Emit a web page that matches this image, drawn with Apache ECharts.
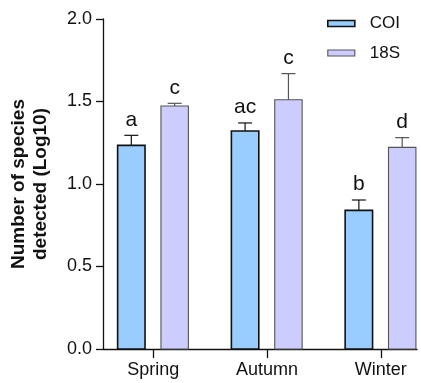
<!DOCTYPE html>
<html>
<head>
<meta charset="utf-8">
<script src="https://cdn.jsdelivr.net/npm/echarts@6/dist/echarts.min.js"></script>
<style>html,body{margin:0;padding:0;background:#fff}#c{width:421px;height:383px}</style>
</head>
<body>
<div id="c"></div>
<script>
const categories = ['Spring', 'Autumn', 'Winter'];
const coiMean = [1.234, 1.321, 0.840];
const coiErr = [0.061, 0.049, 0.063];
const coiLetters = ['a', 'ac', 'b'];
const s18Mean = [1.473, 1.511, 1.222];
const s18Err = [0.016, 0.158, 0.059];
const s18Letters = ['c', 'c', 'd'];
const yTicks = [0, 0.5, 1.0, 1.5, 2.0];

const FONT = '"Liberation Sans", Arial, sans-serif';

function makeRender(offsetFrac, fill, stroke, bw, errColor, letters) {
  return function (params, api) {
    const x = api.value(0), y = api.value(1), e = api.value(2);
    const unit = api.size([1, 0])[0];
    const off = unit * offsetFrac;
    const w = unit * 0.241;
    const base = api.coord([x, 0]);
    const top = api.coord([x, y]);
    const et = api.coord([x, y + e]);
    const cx = base[0] + off;
    const cap = 14;
    return {
      type: 'group',
      children: [
        { type: 'line', shape: { x1: cx, y1: top[1], x2: cx, y2: et[1] }, style: { stroke: errColor, lineWidth: 1.2 } },
        { type: 'line', shape: { x1: cx - cap / 2, y1: et[1], x2: cx + cap / 2, y2: et[1] }, style: { stroke: errColor, lineWidth: 1.2 } },
        { type: 'rect', shape: { x: cx - w / 2, y: top[1], width: w, height: base[1] - top[1] }, style: { fill: fill, stroke: stroke, lineWidth: bw } },
        { type: 'text', x: cx, y: et[1] - 5, style: { text: letters[params.dataIndex], font: '21px ' + FONT, fill: '#111', align: 'center', verticalAlign: 'bottom' } }
      ]
    };
  };
}

const chart = echarts.init(document.getElementById('c'), null, { renderer: 'canvas' });
chart.setOption({
  animation: false,
  backgroundColor: '#fff',
  grid: { left: 102, top: 19, width: 315, bottom: 34, containLabel: false },
  legend: {
    orient: 'vertical',
    left: 327,
    top: 15,
    padding: 0,
    itemWidth: 27,
    itemHeight: 6,
    itemGap: 12.5,
    textStyle: { fontFamily: FONT, fontSize: 17, color: '#111', padding: [0, 0, 0, 10] },
    data: [
      { name: 'COI', icon: 'rect', itemStyle: { color: '#99CCFF', borderColor: '#111', borderWidth: 1.6 } },
      { name: '18S', icon: 'rect', itemStyle: { color: '#CCCCFF', borderColor: '#555', borderWidth: 1.1 } }
    ]
  },
  xAxis: {
    type: 'value',
    min: -0.442,
    max: 2.318,
    splitLine: { show: false },
    axisLine: { show: true, onZero: false, lineStyle: { color: '#111', width: 1.3 } },
    axisTick: { show: true, length: 9, lineStyle: { color: '#111', width: 1.3 }, customValues: [0, 1, 2] },
    axisLabel: {
      customValues: [0, 1, 2],
      formatter: v => categories[Math.round(v)],
      fontFamily: FONT, fontSize: 18, color: '#111', margin: 12
    }
  },
  yAxis: {
    type: 'value',
    min: 0, max: 2.0, interval: 0.5,
    splitLine: { show: false },
    axisLine: { show: true, onZero: false, lineStyle: { color: '#111', width: 1.3 } },
    axisTick: { show: true, inside: false, length: 7, lineStyle: { color: '#111', width: 1.3 } },
    axisLabel: { formatter: v => v.toFixed(1), fontFamily: FONT, fontSize: 18, color: '#111', margin: 11 },
    name: 'Number of species\ndetected (Log10)',
    nameLocation: 'middle',
    nameGap: 51,
    nameTextStyle: { fontFamily: FONT, fontSize: 19, fontWeight: 'bold', color: '#111', lineHeight: 22 }
  },
  series: [
    { name: 'COI', type: 'custom', renderItem: makeRender(-0.193, '#99CCFF', '#111', 1.6, '#111', coiLetters), data: coiMean.map((m, i) => [i, m, coiErr[i]]), itemStyle: { color: '#99CCFF', borderColor: '#111' }, encode: { x: 0, y: 1 }, clip: false },
    { name: '18S', type: 'custom', renderItem: makeRender(0.188, '#CCCCFF', '#555', 1.1, '#555', s18Letters), data: s18Mean.map((m, i) => [i, m, s18Err[i]]), itemStyle: { color: '#CCCCFF', borderColor: '#555' }, encode: { x: 0, y: 1 }, clip: false }
  ]
});
</script>
</body>
</html>
